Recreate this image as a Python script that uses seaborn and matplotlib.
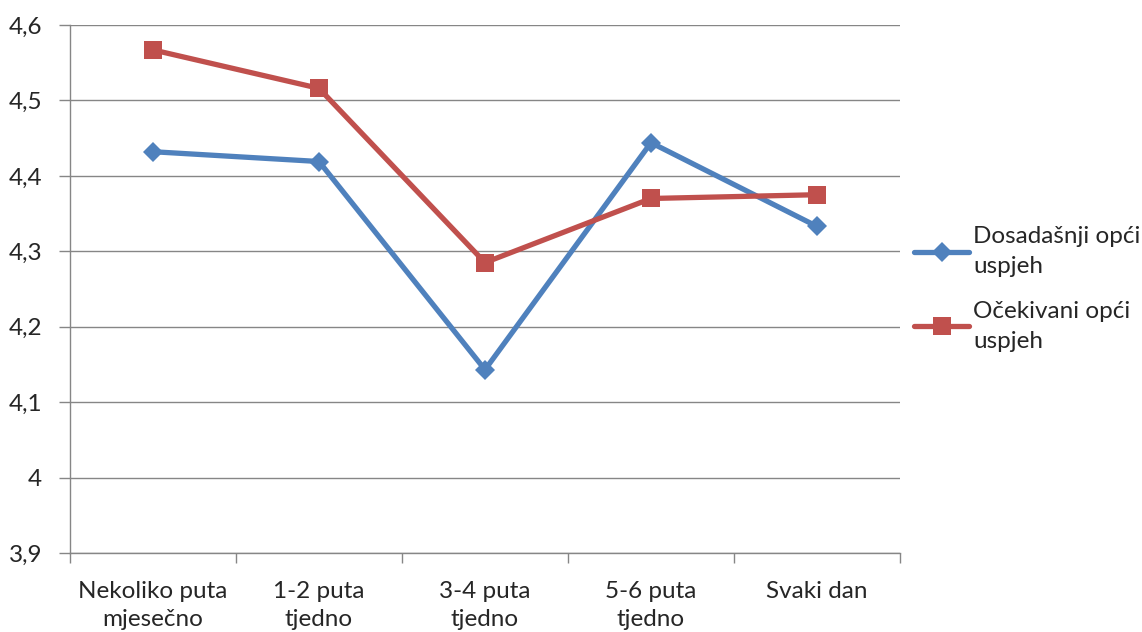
import pandas as pd
import numpy as np
import matplotlib.pyplot as plt
import seaborn as sns
from matplotlib.ticker import FixedLocator, FuncFormatter

# Data
categories = ['Nekoliko puta\nmjesečno', '1-2 puta\ntjedno', '3-4 puta\ntjedno',
              '5-6 puta\ntjedno', 'Svaki dan']
dosadasnji = [4.432, 4.419, 4.143, 4.444, 4.333]
ocekivani = [4.567, 4.516, 4.285, 4.370, 4.375]
series_names = ['Dosadašnji opći\nuspjeh', 'Očekivani opći\nuspjeh']
y_ticks = [3.9, 4.0, 4.1, 4.2, 4.3, 4.4, 4.5, 4.6]

sns.set_style('white')
plt.rcParams['font.family'] = ['Lato', 'DejaVu Sans']

data = pd.DataFrame({
    'pos': list(range(len(categories))) * 2,
    'value': dosadasnji + ocekivani,
    'series': [series_names[0]] * len(categories) + [series_names[1]] * len(categories),
})

fig = plt.figure(figsize=(11.42, 6.32), dpi=100)
ax = fig.add_axes([70 / 1142, 79 / 632, 830 / 1142, 528 / 632])

palette = {series_names[0]: '#4F81BD', series_names[1]: '#C0504D'}
markers = {series_names[0]: 'D', series_names[1]: 's'}
sizes = {series_names[0]: 10, series_names[1]: 13}

for name in series_names:
    sub = data[data['series'] == name]
    sns.lineplot(data=sub, x='pos', y='value', ax=ax, color=palette[name],
                 marker=markers[name], markersize=sizes[name], linewidth=3.8,
                 markeredgewidth=0, label=name)

ax.set_xlim(-0.5, len(categories) - 0.5)
ax.set_ylim(3.9, 4.6)
ax.set_xlabel('')
ax.set_ylabel('')

ax.set_xticks(range(len(categories)))
ax.set_xticklabels(categories, fontsize=17.5, linespacing=1.45)
ax.xaxis.set_minor_locator(FixedLocator(np.arange(-0.5, len(categories), 1.0)))
ax.tick_params(axis='x', which='major', bottom=False, length=0, pad=20)
ax.tick_params(axis='x', which='minor', bottom=True, length=7, width=1,
               color='#868686', direction='out')

ax.yaxis.set_major_locator(FixedLocator(y_ticks))
ax.yaxis.set_major_formatter(FuncFormatter(lambda v, p: f'{v:g}'.replace('.', ',')))
ax.tick_params(axis='y', which='major', left=True, length=8, width=1, color='#868686',
               direction='out', labelsize=17.5, pad=12)

ax.grid(axis='y', color='#868686', linewidth=1)
ax.set_axisbelow(True)
for side in ['top', 'right']:
    ax.spines[side].set_visible(False)
for side in ['left', 'bottom']:
    ax.spines[side].set_color('#868686')
    ax.spines[side].set_linewidth(1)

leg = ax.legend(loc='center left', bbox_to_anchor=(0.99, 0.5), frameon=False,
                fontsize=17.5, handlelength=2.3, handletextpad=0.15, labelspacing=1.0)
for t in leg.get_texts():
    t.set_linespacing(1.5)

fig.savefig('out.png', dpi=100)
